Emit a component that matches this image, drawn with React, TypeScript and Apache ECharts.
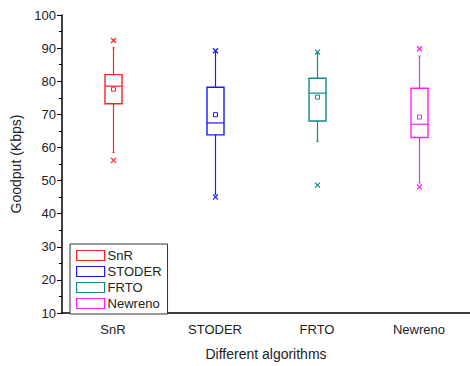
import React, { useEffect, useRef } from "react";
import * as echarts from "echarts";

const categories = ["SnR", "STODER", "FRTO", "Newreno"];
const colors = ["#ff2020", "#1a1aff", "#108a8a", "#ff20ff"];
// [whiskerLow, Q1, median, Q3, whiskerHigh]
const boxStats = [
  [58.5, 73.2, 78.5, 82.0, 90.1],
  [45.8, 63.8, 67.4, 78.2, 89.0],
  [61.8, 68.0, 76.4, 80.9, 88.6],
  [49.3, 63.0, 67.0, 77.9, 87.6],
];
const means = [77.6, 69.9, 75.2, 69.2];
const minMarks = [56.1, 45.0, 48.6, 48.1];
const maxMarks = [92.3, 89.2, 88.8, 89.8];
const yTicks = { min: 10, max: 100, interval: 10 };

export default function App() {
  const ref = useRef<HTMLDivElement>(null);
  useEffect(() => {
    if (!ref.current) return;
    const chart = echarts.init(ref.current, null, { renderer: "svg" });
    const font = "'Liberation Sans', Arial, sans-serif";

    const series = categories.map((name, i) => ({
      name,
      type: "custom",
      data: [[i, ...boxStats[i], means[i], minMarks[i], maxMarks[i]]],
      itemStyle: { color: colors[i] },
      renderItem: (params: any, api: any) => {
        const c = colors[i];
        const x = api.value(0);
        const lo = api.coord([x, api.value(1)]);
        const q1 = api.coord([x, api.value(2)]);
        const med = api.coord([x, api.value(3)]);
        const q3 = api.coord([x, api.value(4)]);
        const hi = api.coord([x, api.value(5)]);
        const mn = api.coord([x, api.value(6)]);
        const omin = api.coord([x, api.value(7)]);
        const omax = api.coord([x, api.value(8)]);
        const cx = Math.round(lo[0]) + 0.5;
        const hw = 8.5;
        const lineStyle = { stroke: c, lineWidth: 1.2, fill: null };
        const cross = (p: number[]) => ({
          type: "group",
          children: [
            { type: "line", shape: { x1: cx - 2.5, y1: p[1] - 2.5, x2: cx + 2.5, y2: p[1] + 2.5 }, style: { stroke: c, lineWidth: 1.2 } },
            { type: "line", shape: { x1: cx - 2.5, y1: p[1] + 2.5, x2: cx + 2.5, y2: p[1] - 2.5 }, style: { stroke: c, lineWidth: 1.2 } },
          ],
        });
        return {
          type: "group",
          children: [
            { type: "line", shape: { x1: cx, y1: hi[1], x2: cx, y2: q3[1] }, style: lineStyle },
            { type: "line", shape: { x1: cx, y1: q1[1], x2: cx, y2: lo[1] }, style: lineStyle },
            { type: "line", shape: { x1: cx - 1, y1: hi[1], x2: cx + 1, y2: hi[1] }, style: lineStyle },
            { type: "line", shape: { x1: cx - 1, y1: lo[1], x2: cx + 1, y2: lo[1] }, style: lineStyle },
            { type: "rect", shape: { x: cx - hw, y: q3[1], width: hw * 2, height: q1[1] - q3[1] }, style: { stroke: c, lineWidth: 1.4, fill: "rgba(0,0,0,0)" } },
            { type: "line", shape: { x1: cx - hw, y1: med[1], x2: cx + hw, y2: med[1] }, style: { stroke: c, lineWidth: 1.2 } },
            { type: "rect", shape: { x: cx - 2, y: mn[1] - 2, width: 4, height: 4 }, style: { stroke: c, lineWidth: 1, fill: "rgba(0,0,0,0)" } },
            cross(omin),
            cross(omax),
          ],
        };
      },
    }));

    chart.setOption({
      animation: false,
      backgroundColor: "#ffffff",
      textStyle: { fontFamily: font },
      grid: { left: 62, right: 0, top: 15, bottom: 48 },
      legend: {
        orient: "vertical",
        left: 70,
        top: 244,
        itemWidth: 28,
        itemHeight: 10,
        itemGap: 3,
        padding: [5, 6, 4, 6],
        borderColor: "#333",
        borderWidth: 1,
        borderRadius: 0,
        backgroundColor: "#ffffff",
        textStyle: { fontFamily: font, fontSize: 13, color: "#222", padding: [0, 0, 0, -2], lineHeight: 13 },
        data: categories.map((name, i) => ({
          name,
          icon: "rect",
          itemStyle: { color: "#ffffff", borderColor: colors[i], borderWidth: 1.2 },
        })),
      },
      xAxis: {
        type: "category",
        data: categories,
        boundaryGap: true,
        name: "Different algorithms",
        nameLocation: "middle",
        nameGap: 34,
        nameTextStyle: { fontFamily: font, fontSize: 14, color: "#222" },
        axisLine: { lineStyle: { color: "#000", width: 1.5 } },
        axisTick: { alignWithLabel: true, length: 5, lineStyle: { color: "#000" } },
        axisLabel: { fontFamily: font, fontSize: 13, color: "#222", margin: 10 },
        splitLine: { show: false },
      },
      yAxis: {
        type: "value",
        min: yTicks.min,
        max: yTicks.max,
        interval: yTicks.interval,
        name: "Goodput (Kbps)",
        nameLocation: "middle",
        nameGap: 36,
        nameTextStyle: { fontFamily: font, fontSize: 14, color: "#222" },
        axisLine: { show: true, lineStyle: { color: "#000", width: 1.5 } },
        axisTick: { show: true, length: 5, lineStyle: { color: "#000" } },
        minorTick: { show: true, splitNumber: 2, length: 3, lineStyle: { color: "#000" } },
        axisLabel: { fontFamily: font, fontSize: 13, color: "#222", margin: 6 },
        splitLine: { show: false },
      },
      series,
    });
    return () => chart.dispose();
  }, []);
  return (
    <div
      ref={ref}
      style={{ position: "fixed", left: 0, top: 0, width: 470, height: 366 }}
    />
  );
}
